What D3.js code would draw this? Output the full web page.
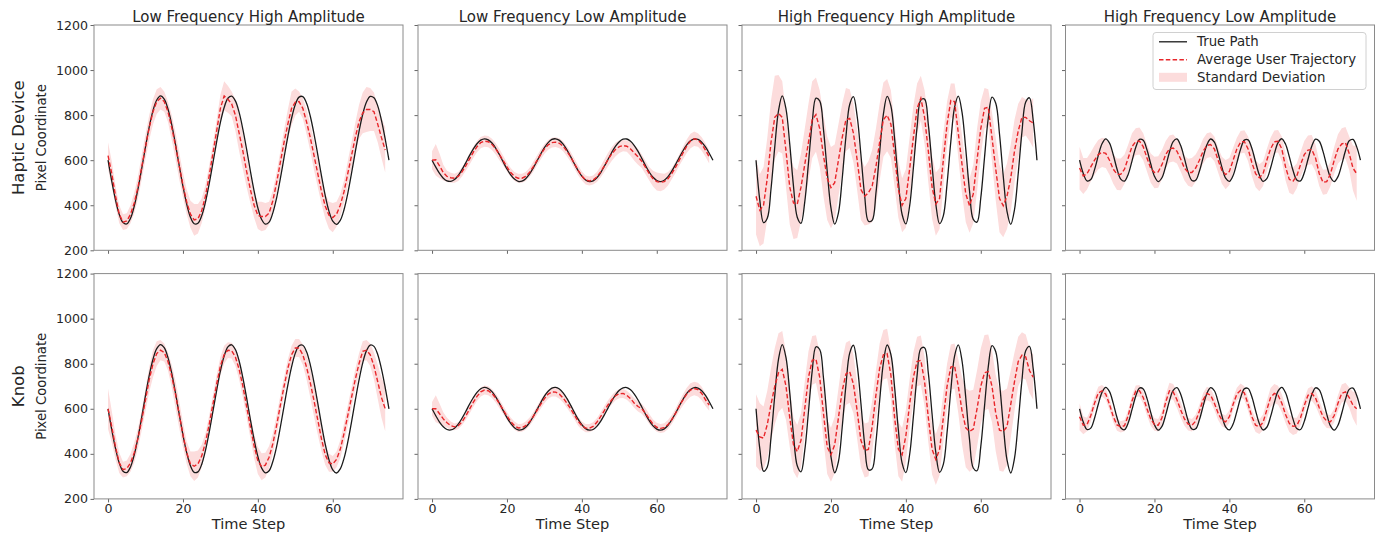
<!DOCTYPE html>
<html><head><meta charset="utf-8">
<script src="https://cdn.jsdelivr.net/npm/d3@7"></script>
<style>
html,body{margin:0;padding:0;background:#fff;}
text{font-family:"DejaVu Sans",sans-serif;}
</style></head>
<body>
<svg id="chart" width="1379" height="533"></svg>
<script>
const colTitles = ["Low Frequency High Amplitude","Low Frequency Low Amplitude","High Frequency High Amplitude","High Frequency Low Amplitude"];
const rowLabels = ["Haptic Device","Knob"];
const yLabel = "Pixel Coordinate";
const xLabel = "Time Step";
const xTicks = [0,20,40,60];
const yTicks = [200,400,600,800,1000,1200];
const legendLabels = ["True Path","Average User Trajectory","Standard Deviation"];

const timeSteps = [0,1,2,3,4,5,6,7,8,9,10,11,12,13,14,15,16,17,18,19,20,21,22,23,24,25,26,27,28,29,30,31,32,33,34,35,36,37,38,39,40,41,42,43,44,45,46,47,48,49,50,51,52,53,54,55,56,57,58,59,60,61,62,63,64,65,66,67,68,69,70,71,72,73,74,75];

const trueLFHA = [600,506,423,359,323,317,342,396,473,564,659,748,820,867,885,871,827,758,671,576,484,405,347,318,320,353,414,495,588,682,768,834,875,884,863,812,737,648,552,463,388,337,316,325,366,432,518,612,705,786,847,880,882,853,795,716,624,529,442,373,329,315,333,380,452,541,636,727,804,858,883,877,841,777,694,600];
const trueLFLA = [600,569,541,520,508,506,514,532,558,588,620,649,673,689,695,690,676,653,624,592,561,535,516,506,507,518,538,565,596,627,656,678,692,695,688,671,646,616,584,554,529,512,505,508,522,544,573,604,635,662,682,693,694,684,665,639,608,576,547,524,510,505,511,527,551,580,612,642,668,686,694,692,680,659,631,600];
const trueHFHA = [600,423,323,342,473,659,820,885,827,671,484,347,320,414,588,768,875,863,737,552,388,316,366,518,705,847,882,795,624,442,329,333,452,636,804,883,841,694,506,359,317,396,564,748,867,871,758,576,405,318,353,495,682,834,884,812,648,463,337,325,432,612,786,880,853,716,529,373,315,380,541,727,858,877,777,600];
const trueHFLA = [600,541,508,514,558,620,673,695,676,624,561,516,507,538,596,656,692,688,646,584,529,505,522,573,635,682,694,665,608,547,510,511,551,612,668,694,680,631,569,520,506,532,588,649,689,690,653,592,535,506,518,565,627,678,695,671,616,554,512,508,544,604,662,693,684,639,576,524,505,527,580,642,686,692,659,600];

const hapticLFHAMean = [620,540,440,360,325,330,360,410,480,570,660,745,815,860,875,860,815,745,665,575,490,415,360,335,340,375,440,530,630,730,830,885,870,850,800,720,640,550,470,400,355,350,350,365,420,500,590,680,760,830,858,860,830,770,700,620,540,460,395,355,345,360,400,460,540,620,700,770,810,825,825,815,760,700,645];
const hapticLFHASd = [60,55,45,40,35,35,40,45,50,55,55,55,55,55,50,45,45,55,60,60,55,55,60,70,65,55,50,45,45,50,60,65,60,55,70,80,80,70,60,55,60,65,60,50,45,45,50,55,65,75,60,45,45,55,60,65,60,55,55,60,65,55,50,50,55,60,65,75,90,100,95,85,80,90,100];
const hapticLFLAMean = [600,602,575,545,528,522,520,528,548,575,605,635,660,678,685,682,670,650,625,598,570,545,528,520,520,528,545,570,598,625,650,668,678,680,675,662,640,615,585,555,530,512,508,512,525,548,575,603,628,648,660,665,662,650,632,615,595,568,540,518,505,502,505,518,540,568,600,632,662,685,695,690,672,645,615];
const hapticLFLASd = [40,70,55,35,25,22,20,20,20,22,25,25,25,25,25,25,25,25,25,22,20,20,20,20,20,20,20,22,22,22,22,22,22,22,22,22,22,22,22,22,20,20,20,20,22,25,28,30,30,30,28,25,25,30,35,35,30,30,30,35,40,40,35,30,25,25,25,28,30,32,32,30,30,30,30];
const hapticHFHAMean = [440,378,400,520,680,790,808,790,640,480,410,405,480,580,680,780,802,740,620,520,478,500,600,700,780,785,720,600,470,440,455,485,570,680,780,800,760,620,470,400,430,560,700,830,875,790,640,480,405,430,600,760,865,860,720,580,450,398,450,600,740,830,835,700,560,430,398,440,520,640,730,790,790,775,765];
const hapticHFHASd = [170,160,170,180,185,185,170,160,160,165,160,150,150,160,170,170,165,170,180,185,180,170,160,150,140,130,130,135,135,130,140,160,170,170,165,160,150,140,125,120,130,140,140,110,100,120,140,140,140,135,120,100,75,80,110,130,125,120,130,140,120,90,80,110,140,150,140,145,150,140,120,90,80,90,110];
const hapticHFLAMean = [565,530,540,570,600,625,635,630,600,560,538,537,560,610,660,682,685,660,610,565,545,548,580,625,650,654,640,605,565,546,545,565,600,640,665,669,650,600,555,536,550,600,650,680,683,650,590,540,522,540,600,650,682,684,650,570,515,507,530,580,625,645,647,610,540,502,505,540,600,650,672,677,630,565,540];
const hapticHFLASd = [95,80,70,65,65,65,65,65,65,65,70,70,65,60,60,60,60,60,60,65,70,70,65,60,60,60,55,55,55,60,65,60,55,55,55,55,55,55,60,65,60,55,50,50,50,55,60,60,60,55,50,50,50,50,55,60,60,60,55,55,60,65,65,60,55,55,55,55,60,65,70,70,75,100,120];

const knobLFHAMean = [600,520,430,360,330,335,360,405,470,550,640,730,800,845,860,850,810,745,665,575,485,405,355,345,355,390,450,530,620,710,790,840,860,858,830,775,700,610,520,435,370,343,350,385,445,525,615,700,780,840,870,870,840,785,715,635,550,465,395,360,355,375,420,490,570,650,730,800,855,860,840,790,720,650,600];
const knobLFHASd = [90,70,55,45,35,35,40,45,45,45,50,55,60,55,45,40,40,50,60,60,55,50,55,65,60,50,40,40,40,40,40,40,35,35,40,45,50,50,50,55,60,60,55,50,45,45,45,40,40,40,40,40,45,55,65,70,65,55,45,40,35,35,40,45,45,45,45,45,45,45,50,60,75,90,100];
const knobLFLAMean = [600,600,578,555,538,525,520,525,542,568,598,628,655,675,683,680,668,648,622,595,568,543,525,515,516,525,542,565,592,620,645,665,675,674,665,648,625,600,572,545,525,514,514,522,540,565,592,618,640,658,667,668,660,645,625,610,600,580,555,532,518,513,516,530,552,580,612,640,665,683,690,685,668,640,616];
const knobLFLASd = [30,60,45,30,22,18,15,15,15,18,20,20,20,20,20,20,20,20,20,18,18,18,18,18,18,18,18,18,18,20,20,20,20,20,20,20,20,20,20,20,18,18,18,18,18,18,20,20,20,20,20,20,20,20,22,22,22,22,22,20,20,20,20,20,20,20,22,25,28,30,30,30,30,28,25];
const knobHFHAMean = [505,475,470,530,620,700,760,775,700,560,440,410,460,600,740,815,820,740,580,430,396,440,560,680,755,765,710,590,460,415,420,520,660,780,840,845,750,560,420,396,480,620,740,810,815,720,560,420,375,420,560,700,785,790,700,590,515,500,510,600,700,760,765,700,580,505,500,520,620,720,810,838,830,770,740];
const knobHFHASd = [160,150,140,150,160,170,175,170,150,130,120,118,120,120,115,108,106,110,120,120,120,125,130,135,138,138,130,125,120,120,120,115,110,110,110,110,110,115,120,120,115,110,110,110,110,110,110,112,113,115,110,100,100,100,120,150,175,180,175,170,168,168,165,160,170,180,180,170,150,130,110,102,100,100,100];
const knobHFLAMean = [565,527,530,570,625,670,680,665,620,565,528,520,525,570,635,678,680,650,600,555,530,527,560,630,680,675,640,595,555,532,527,545,590,640,668,660,625,580,550,542,565,620,665,682,670,620,565,527,520,540,595,650,668,660,625,575,535,522,525,560,615,660,668,648,605,565,545,542,570,625,668,675,650,616,600];
const knobHFLASd = [60,40,30,28,28,28,25,25,25,25,25,25,25,25,25,25,25,28,30,30,28,28,30,32,35,35,35,35,30,28,28,28,28,30,30,30,30,30,28,28,28,28,28,30,30,30,30,30,32,35,40,42,42,42,40,38,38,38,35,32,30,30,32,35,32,30,30,30,30,35,40,40,45,60,75];

const truePaths = [trueLFHA, trueLFLA, trueHFHA, trueHFLA];
const meanRows = [[hapticLFHAMean, hapticLFLAMean, hapticHFHAMean, hapticHFLAMean],[knobLFHAMean, knobLFLAMean, knobHFHAMean, knobHFLAMean]];
const sdRows = [[hapticLFHASd, hapticLFLASd, hapticHFHASd, hapticHFLASd],[knobLFHASd, knobLFLASd, knobHFHASd, knobHFLASd]];

const svg = d3.select("#chart");
const panelW = 309, panelH = 225.3;
const lefts = [94, 418, 742, 1065.5];
const tops = [25, 273.6];
const frameColor = "#8a8a8a";
const txtColor = "#262626";

const defs = svg.append("defs");

for (let r = 0; r < 2; r++) {
  for (let c = 0; c < 4; c++) {
    const L = lefts[c], T = tops[r];
    const x = d3.scaleLinear().domain([-3.75, 78.75]).range([L, L + panelW]);
    const y = d3.scaleLinear().domain([200, 1200]).range([T + panelH, T]);
    const id = "clip" + r + c;
    defs.append("clipPath").attr("id", id).append("rect")
      .attr("x", L).attr("y", T).attr("width", panelW).attr("height", panelH);
    const g = svg.append("g");
    const mean = meanRows[r][c], sd = sdRows[r][c];
    const n = mean.length;
    const pts = d3.range(n).map(i => ({t: timeSteps[i], m: mean[i], s: sd[i]}));
    const plot = g.append("g").attr("clip-path", `url(#${id})`);
    plot.append("path").datum(pts)
      .attr("d", d3.area().x(d => x(d.t)).y0(d => y(d.m - d.s)).y1(d => y(d.m + d.s)))
      .attr("fill", "rgb(252,220,220)").attr("stroke", "none");
    const tp = truePaths[c].map((v, i) => ({t: timeSteps[i], v}));
    plot.append("path").datum(tp)
      .attr("d", d3.line().x(d => x(d.t)).y(d => y(d.v)).curve(d3.curveCatmullRom.alpha(0.5)))
      .attr("fill", "none").attr("stroke", "#1a1a1a").attr("stroke-width", 1.3);
    plot.append("path").datum(pts)
      .attr("d", d3.line().x(d => x(d.t)).y(d => y(d.m)))
      .attr("fill", "none").attr("stroke", "#e8262a").attr("stroke-width", 1.4)
      .attr("stroke-dasharray", "4.5,2.3");

    // axes
    const ya = d3.axisLeft(y).tickValues(yTicks).tickSize(3.5).tickPadding(2.5)
      .tickFormat(c === 0 ? d3.format("d") : () => "");
    const yg = g.append("g").attr("transform", `translate(${L},0)`).call(ya);
    const xa = d3.axisBottom(x).tickValues(xTicks).tickSize(3.5).tickPadding(1.2)
      .tickFormat(r === 1 ? d3.format("d") : () => "");
    const xg = g.append("g").attr("transform", `translate(0,${T + panelH})`).call(xa);
    [yg, xg].forEach(ax => {
      ax.select(".domain").remove();
      ax.selectAll(".tick line").attr("stroke", "#555").attr("stroke-width", 0.9);
      ax.selectAll(".tick text").attr("font-size", "12.6px").attr("fill", txtColor)
        .attr("font-family", "DejaVu Sans, sans-serif");
    });
    g.append("rect").attr("x", L).attr("y", T).attr("width", panelW).attr("height", panelH)
      .attr("fill", "none").attr("stroke", frameColor).attr("stroke-width", 1);

    if (r === 0) {
      svg.append("text").attr("x", L + panelW / 2).attr("y", 22)
        .attr("text-anchor", "middle").attr("font-size", "15px").attr("fill", txtColor)
        .text(colTitles[c]);
    }
    if (r === 1) {
      svg.append("text").attr("x", L + panelW / 2).attr("y", 529.2)
        .attr("text-anchor", "middle").attr("font-size", "14.6px").attr("fill", txtColor)
        .text(xLabel);
    }
  }
  const cy = tops[r] + panelH / 2;
  svg.append("text").attr("transform", `translate(24,${cy}) rotate(-90)`)
    .attr("text-anchor", "middle").attr("font-size", "16.5px").attr("fill", txtColor)
    .text(rowLabels[r]);
  svg.append("text").attr("transform", `translate(46,${cy}) rotate(-90)`)
    .attr("text-anchor", "middle").attr("font-size", "13.2px").attr("fill", txtColor)
    .text(yLabel);
}

// legend
const lg = svg.append("g");
lg.append("rect").attr("x", 1153).attr("y", 32.5).attr("width", 213).attr("height", 57)
  .attr("rx", 3).attr("fill", "#fff").attr("fill-opacity", 0.85).attr("stroke", "#d0d0d0");
const ly = [41.8, 59.8, 77.3];
lg.append("line").attr("x1", 1159).attr("x2", 1187).attr("y1", ly[0]).attr("y2", ly[0])
  .attr("stroke", "#1a1a1a").attr("stroke-width", 1.3);
lg.append("line").attr("x1", 1159).attr("x2", 1187).attr("y1", ly[1]).attr("y2", ly[1])
  .attr("stroke", "#e8262a").attr("stroke-width", 1.4).attr("stroke-dasharray", "4.5,2.3");
lg.append("rect").attr("x", 1159).attr("y", ly[2] - 4.5).attr("width", 28).attr("height", 9)
  .attr("fill", "rgb(252,220,220)");
legendLabels.forEach((t, i) => {
  lg.append("text").attr("x", 1197).attr("y", ly[i]).attr("dy", "0.35em")
    .attr("font-size", "13.3px").attr("fill", txtColor).text(t);
});
</script>
</body></html>
